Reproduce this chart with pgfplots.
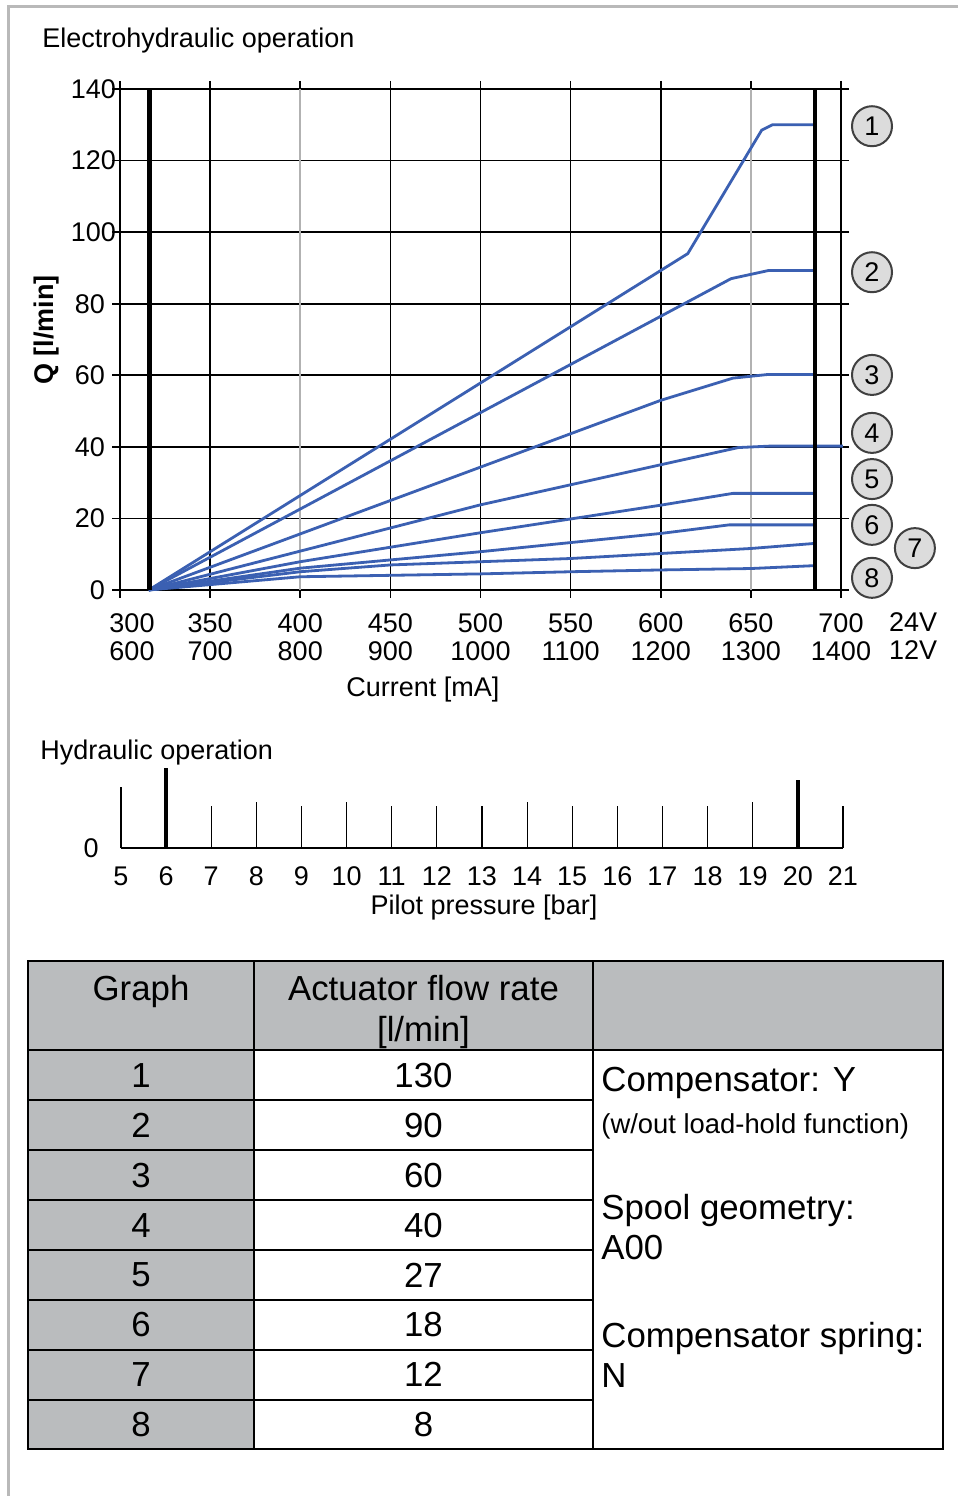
\documentclass[border=0pt]{standalone}
\usepackage{pgfplots}
\pgfplotsset{compat=1.18}
\usepackage{fontspec}
\setmainfont{Liberation Sans}
\definecolor{curve}{RGB}{59,96,178}
\definecolor{tgray}{RGB}{186,188,190}
\definecolor{cgray}{RGB}{220,220,220}
\newcommand{\fa}{\fontsize{13.5}{14}\selectfont}
\newcommand{\fb}{\fontsize{17.4}{20}\selectfont}
\newcommand{\fc}{\fontsize{13.7}{16}\selectfont}
\begin{document}
\begin{tikzpicture}
\useasboundingbox (0,0) rectangle (479pt,748pt);
\fill[white] (0,0) rectangle (479pt,748pt);
\draw[gray!55, line width=1.5pt] (4pt,0) -- (4pt,744.5pt) -- (479pt,744.5pt);

\node[anchor=base west, font=\fa, inner sep=0] at (21pt,724.2pt) {Electrohydraulic operation};
\node[anchor=base, font=\fa, inner sep=0] at (211.5pt,399.7pt) {Current [mA]};
\node[rotate=90, font=\fa\bfseries, inner sep=0] at (23.5pt,583pt) {Q [l/min]};

\begin{axis}[
 at={(60pt,453pt)}, anchor=south west,
 scale only axis, width=360.5pt, height=250.5pt,
 xmin=300, xmax=700, ymin=0, ymax=140,
 xtick={300,350,450,500,550,600,700},
 xticklabels={{\hspace*{12pt}300\\\hspace*{12pt}600},{350\\700},{450\\900},{500\\1000},{550\\1100},{600\\1200},{700\\1400}},
 extra x ticks={400,650},
 extra x tick labels={{400\\800},{650\\1300}},
 extra x tick style={major grid style={gray!60, line width=0.8pt}},
 ytick={0,20,...,140},
 yticklabels={0,20,40,60,80,{100\hspace*{-5.5pt}},{120\hspace*{-5.5pt}},{140\hspace*{-5.5pt}}},
 grid=major,
 major grid style={black, line width=0.8pt},
 axis line style={black, line width=0.8pt},
 tick style={black, line width=0.8pt},
 tick align=outside, major tick length=4pt,
 xticklabel style={align=center, font=\fa, yshift=-4.5pt},
 yticklabel style={font=\fa},
 /pgf/number format/assume math mode=true,
 clip=false,
]
\addplot[curve, line width=1.4pt] coordinates {(316,0) (615,94) (656,128.5) (662,130) (685,130)};
\addplot[curve, line width=1.4pt] coordinates {(316,0) (639,87) (660,89.3) (685,89.3)};
\addplot[curve, line width=1.4pt] coordinates {(316,0) (600,53) (640,59.2) (659,60.2) (685,60.2)};
\addplot[curve, line width=1.4pt] coordinates {(316,0) (500,23.8) (600,35) (643,39.8) (660,40.2) (701,40.2)};
\addplot[curve, line width=1.4pt] coordinates {(316,0) (400,7.9) (500,16) (600,23.7) (640,27) (685,27)};
\addplot[curve, line width=1.4pt] coordinates {(316,0) (400,6.1) (500,10.7) (600,15.8) (638,18.2) (685,18.2)};
\addplot[curve, line width=1.4pt] coordinates {(316,0) (400,5.1) (450,7) (500,7.9) (550,8.8) (600,10.2) (650,11.6) (685,13)};
\addplot[curve, line width=1.4pt] coordinates {(316,0) (400,3.7) (450,4.1) (500,4.5) (550,5.1) (600,5.6) (650,6) (685,6.8)};
\addplot[black, line width=2.3pt] coordinates {(316.5,0) (316.5,140)};
\addplot[black, line width=2.3pt] coordinates {(685.5,0) (685.5,140)};
\tikzset{lab/.style={circle, draw=black!75, fill=cgray, line width=1pt, minimum size=20pt, inner sep=0, font=\fa}}
\node[lab] at (axis cs:717.2,129.6) {1};
\node[lab] at (axis cs:717.2,88.8) {2};
\node[lab] at (axis cs:717.2,60.1) {3};
\node[lab] at (axis cs:717.2,43.9) {4};
\node[lab] at (axis cs:717.2,31) {5};
\node[lab] at (axis cs:717.2,18.2) {6};
\node[lab] at (axis cs:741,11.7) {7};
\node[lab] at (axis cs:717.2,3.4) {8};
\node[anchor=north, align=center, font=\fa, yshift=-8pt] at (axis cs:740,0) {24V\\12V};
\end{axis}

\node[anchor=base west, font=\fa, inner sep=0] at (20pt,368.2pt) {Hydraulic operation};
\node[anchor=base, font=\fa, inner sep=0] at (242pt,290.7pt) {Pilot pressure [bar]};

\begin{axis}[
 at={(60.5pt,324pt)}, anchor=south west,
 scale only axis, width=361pt, height=40pt,
 xmin=5, xmax=21, ymin=0, ymax=80,
 axis x line=bottom, axis y line=none,
 axis line style={black, line width=0.8pt, -},
 xtick={5,...,21}, major tick length=0pt,
 xticklabel style={font=\fa, yshift=-6pt},
 /pgf/number format/assume math mode=true,
 clip=false,
]
\addplot[ycomb, black, line width=0.6pt, mark=none] coordinates {(5,61)(7,42)(8,46)(9,42)(10,46)(11,42)(12,42)(13,42)(14,46)(15,42)(16,42)(17,42)(18,42)(19,46)(21,42)};
\addplot[ycomb, black, line width=2pt, mark=none] coordinates {(6,80)(20,68)};
\node[anchor=east, font=\fa, inner sep=0] at (axis cs:5,0) [xshift=-11pt] {0};
\end{axis}

% table
\fill[tgray] (14pt,222.75pt) rectangle (471.5pt,267.5pt);
\fill[tgray] (14pt,23.25pt) rectangle (127pt,222.75pt);
\begin{scope}[line width=1pt, black]
\draw (14pt,23.25pt) rectangle (471.5pt,267.5pt);
\draw (127pt,23.25pt) -- (127pt,267.5pt);
\draw (296.5pt,23.25pt) -- (296.5pt,267.5pt);
\draw (14pt,222.75pt) -- (471.5pt,222.75pt);
\foreach \i in {1,...,7} {\draw (14pt,{222.75pt-24.9375pt*\i}) -- (296.5pt,{222.75pt-24.9375pt*\i});}
\end{scope}
\node[anchor=base, font=\fb, inner sep=0] at (70.5pt,247.75pt) {Graph};
\node[anchor=base, font=\fb, inner sep=0] at (211.75pt,247.75pt) {Actuator flow rate};
\node[anchor=base, font=\fb, inner sep=0] at (211.75pt,227pt) {[l/min]};
\foreach \g/\v [count=\i] in {1/130,2/90,3/60,4/40,5/27,6/18,7/12,8/8} {
  \node[font=\fb, inner sep=0] at (70.5pt,{222.75pt-24.9375pt*(\i-0.5)}) {\g};
  \node[font=\fb, inner sep=0] at (211.75pt,{222.75pt-24.9375pt*(\i-0.5)}) {\v};
}
\node[anchor=base west, font=\fb, inner sep=0] at (300.5pt,202.25pt) {Compensator: Y};
\node[anchor=base west, font=\fc, inner sep=0] at (300.5pt,181.35pt) {(w/out load-hold function)};
\node[anchor=base west, font=\fb, inner sep=0] at (300.5pt,138.25pt) {Spool geometry:};
\node[anchor=base west, font=\fb, inner sep=0] at (300.5pt,118.25pt) {A00};
\node[anchor=base west, font=\fb, inner sep=0] at (300.5pt,74.25pt) {Compensator spring:};
\node[anchor=base west, font=\fb, inner sep=0] at (300.5pt,54.25pt) {N};
\end{tikzpicture}
\end{document}
